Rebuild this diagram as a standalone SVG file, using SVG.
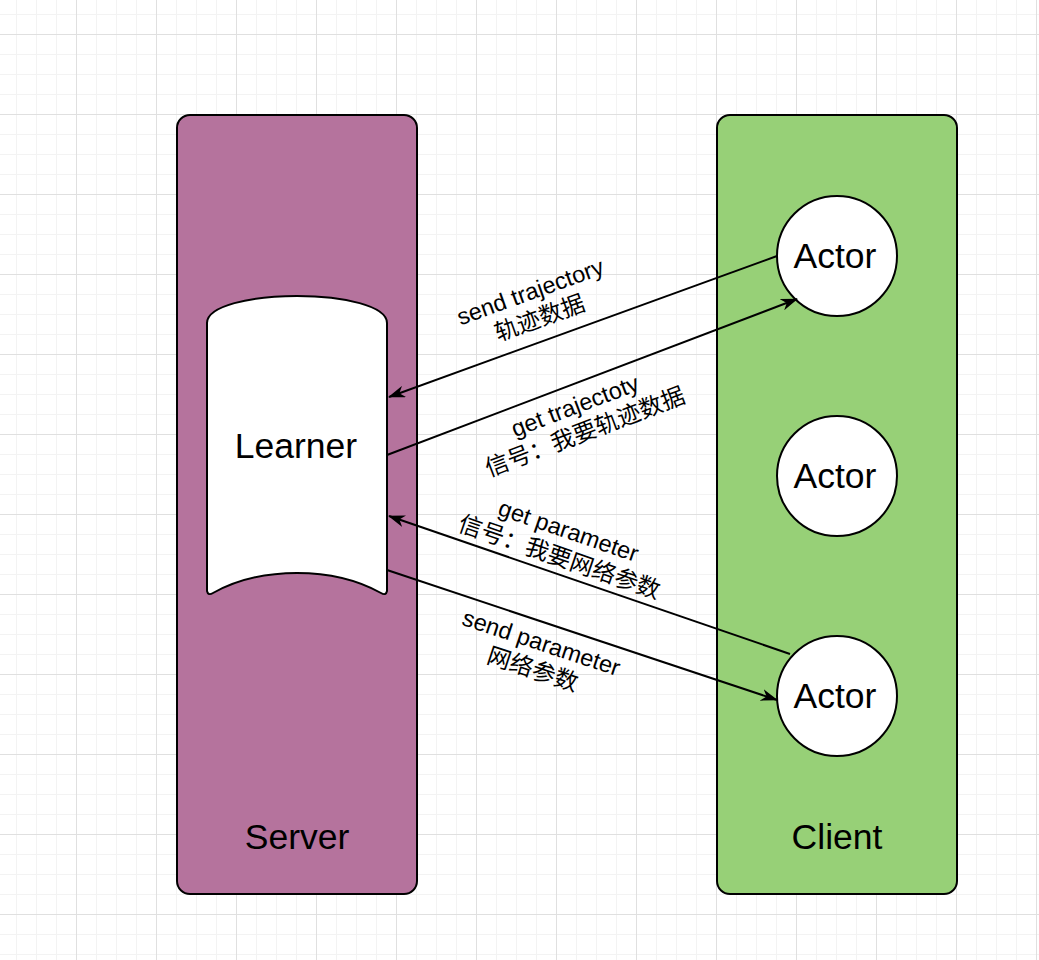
<svg xmlns="http://www.w3.org/2000/svg" width="1039" height="960" viewBox="0 0 1039 960">
<defs>
<pattern id="grid" x="76" y="34" width="80" height="80" patternUnits="userSpaceOnUse">
<path d="M20.5,0V80M40.5,0V80M60.5,0V80M0,20.5H80M0,40.5H80M0,60.5H80" stroke="#f3f3f3" stroke-width="1" fill="none"/>
<path d="M0.5,0V80M0,0.5H80" stroke="#e0e0e0" stroke-width="1" fill="none"/>
</pattern>
<marker id="arr" viewBox="0 0 17 12" refX="16" refY="6" markerWidth="17" markerHeight="12" markerUnits="userSpaceOnUse" orient="auto">
<path d="M0,0 L17,6 L0,12 L5,6 Z" fill="#000"/>
</marker>
</defs>
<style>
.box{stroke:#000;stroke-width:2}
.shape{fill:#fff;stroke:#000;stroke-width:2}
.big{font-family:"Liberation Sans",Arial,sans-serif;font-size:35.5px;fill:#000;text-anchor:middle}
.lbl{font-family:"Liberation Sans","Noto Sans CJK SC",sans-serif;font-size:23.5px;fill:#000;text-anchor:middle}
.edge{stroke:#000;stroke-width:2;fill:none;marker-end:url(#arr)}
</style>
<rect width="1039" height="960" fill="#fff"/>
<rect width="1039" height="960" fill="url(#grid)"/>
<g id="server">
<rect class="box" x="177" y="115" width="240" height="779" rx="13" fill="#B5739D"/>
<text class="big" x="297" y="849">Server</text>
</g>
<g id="client">
<rect class="box" x="717" y="115" width="240" height="779" rx="13" fill="#97D077"/>
<text class="big" x="837" y="849">Client</text>
</g>
<g id="learner">
<path class="shape" d="M207,323 C207,306 250,296 297,296 C344,296 387,306 387,323 L387,591 Q386,596 381,593 Q345,573 297,573 Q249,573 213,593 Q208,596 207,591 Z"/>
<text class="big" x="296" y="458">Learner</text>
</g>
<g id="actor1">
<circle class="shape" cx="837" cy="256" r="60"/>
<text class="big" x="835" y="268">Actor</text>
</g>
<g id="actor2">
<circle class="shape" cx="837" cy="476" r="60"/>
<text class="big" x="835" y="488">Actor</text>
</g>
<g id="actor3">
<circle class="shape" cx="837" cy="696" r="60"/>
<text class="big" x="835" y="708">Actor</text>
</g>
<g id="connectors">
<path class="edge" d="M777,256 L389,397"/>
<path class="edge" d="M387,455 L797,299"/>
<path class="edge" d="M790,654 L389,516"/>
<path class="edge" d="M387,570 L777,700"/>
</g>
<g id="labels">
<g transform="translate(535,305) rotate(-19.8)">
<text class="lbl" x="0" y="-6">send trajectory</text>
<text class="lbl" x="0" y="22">轨迹数据</text>
</g>
<g transform="translate(580,419) rotate(-20.8)">
<text class="lbl" x="0" y="-6">get trajectoty</text>
<text class="lbl" x="0" y="22">信号：我要轨迹数据</text>
</g>
<g transform="translate(564,544) rotate(19)">
<text class="lbl" x="0" y="-6">get parameter</text>
<text class="lbl" x="0" y="22">信号：我要网络参数</text>
</g>
<g transform="translate(537,656) rotate(18.3)">
<text class="lbl" x="0" y="-6">send parameter</text>
<text class="lbl" x="0" y="22">网络参数</text>
</g>
</g>
</svg>
